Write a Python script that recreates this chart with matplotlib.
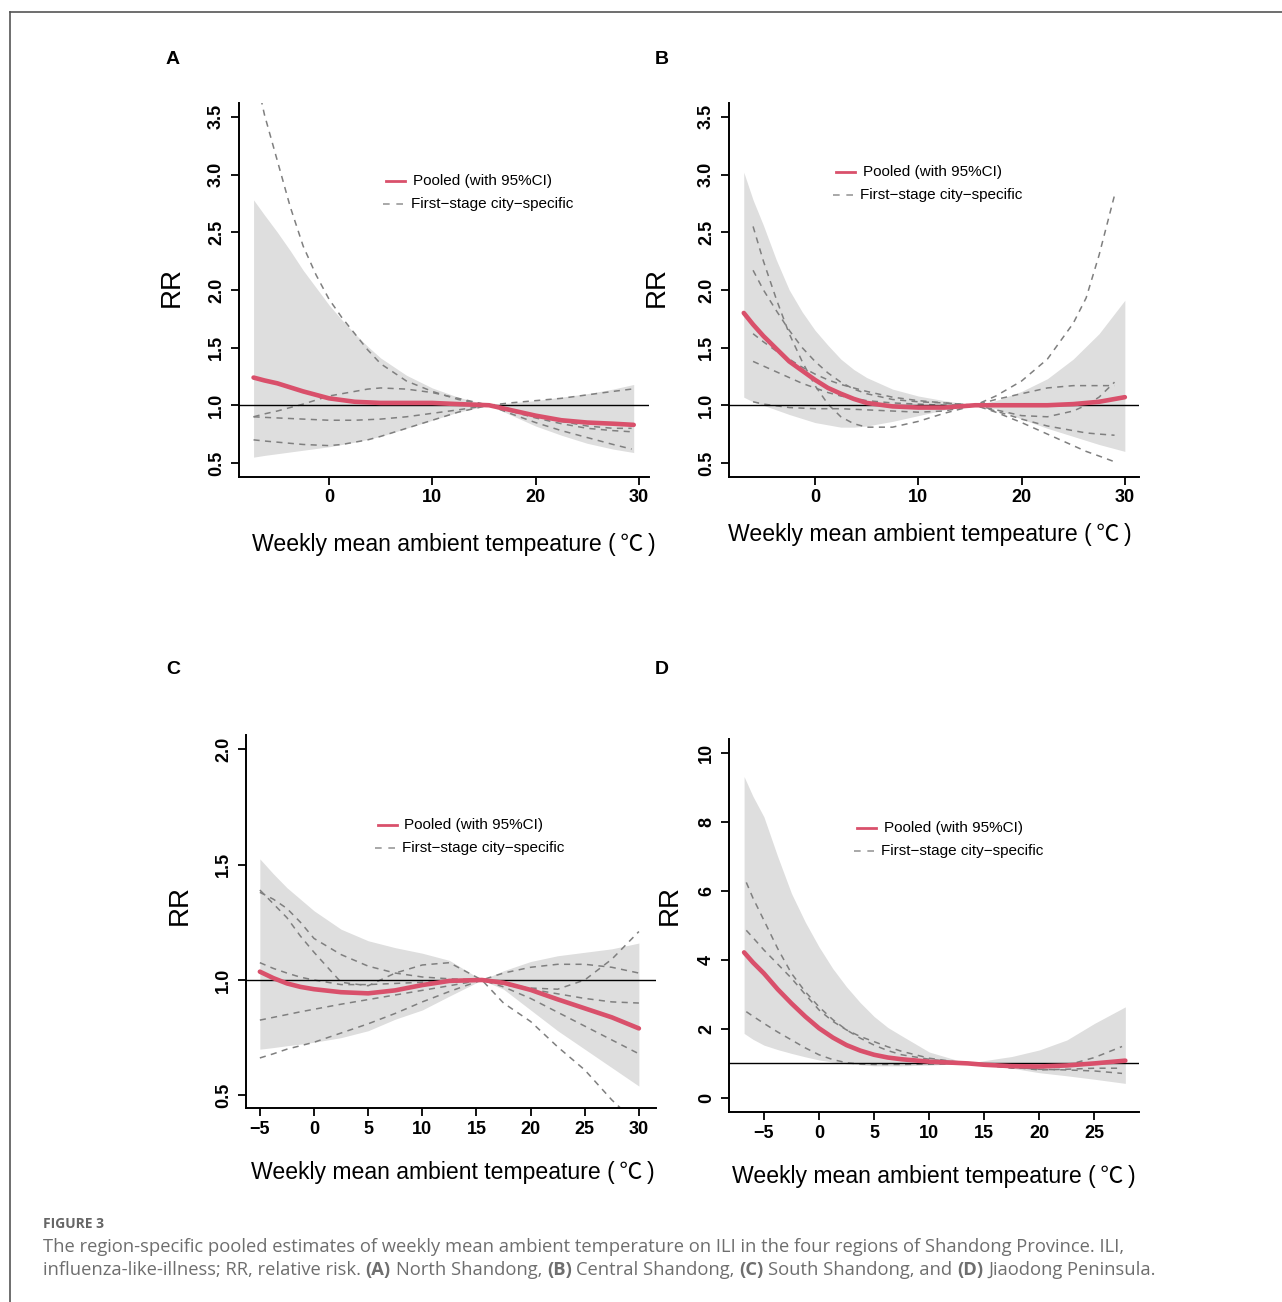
import numpy as np
import matplotlib
matplotlib.use("Agg")
import matplotlib.pyplot as plt
from matplotlib.lines import Line2D

W, H = 1282, 1302
RED = "#d9506b"
BAND = "#dedede"
DASH = "#7f7f7f"
RFONT = ["Liberation Sans", "DejaVu Sans"]

# ---- panel A: North Shandong
a_x = [-7.3, -6.25, -5, -3.75, -2.5, -1.25, 0, 1.25, 2.5, 3.75, 5, 7.5, 10, 12.5, 15.5,
       17.5, 20, 22.5, 25, 27.5, 29.5]
a_rr = [1.24, 1.215, 1.19, 1.155, 1.12, 1.09, 1.06, 1.045, 1.03, 1.025, 1.02, 1.02, 1.02, 1.01, 1.0,
        0.96, 0.91, 0.87, 0.85, 0.84, 0.83]
a_hi = [2.78, 2.65, 2.50, 2.34, 2.17, 2.02, 1.87, 1.74, 1.62, 1.51, 1.41, 1.26, 1.15, 1.07, 1.0,
        1.02, 1.04, 1.07, 1.10, 1.14, 1.18]
a_lo = [0.55, 0.565, 0.58, 0.595, 0.61, 0.625, 0.64, 0.66, 0.68, 0.705, 0.73, 0.80, 0.87, 0.94, 1.0,
        0.92, 0.82, 0.74, 0.67, 0.62, 0.59]
a_cx = [-7.3, -6.25, -5, -3.75, -2.5, -1.25, 0, 1.25, 2.5, 3.75, 5, 7.5, 10, 12.5, 15.5,
        17.5, 20, 22.5, 25, 27.5, 29.3]
a_city = [
    [3.95, 3.52, 3.12, 2.72, 2.38, 2.13, 1.92, 1.76, 1.62, 1.48, 1.36, 1.21, 1.12, 1.05, 1.0,
     0.93, 0.85, 0.78, 0.72, 0.66, 0.62],
    [0.90, 0.925, 0.95, 0.98, 1.01, 1.045, 1.08, 1.10, 1.12, 1.14, 1.15, 1.14, 1.11, 1.06, 1.0,
     0.95, 0.89, 0.84, 0.80, 0.78, 0.77],
    [0.90, 0.895, 0.89, 0.885, 0.88, 0.875, 0.87, 0.87, 0.87, 0.875, 0.88, 0.90, 0.93, 0.96, 1.0,
     0.97, 0.91, 0.86, 0.82, 0.80, 0.80],
    [0.70, 0.69, 0.68, 0.67, 0.66, 0.655, 0.65, 0.66, 0.68, 0.70, 0.73, 0.80, 0.87, 0.94, 1.0,
     1.02, 1.04, 1.06, 1.09, 1.12, 1.14],
]

# ---- panel B: Central Shandong
b_x = [-6.9, -6, -5, -3.75, -2.5, -1.25, 0, 1.25, 2.5, 3.75, 5, 7.5, 10, 12.5, 15.5,
       17.5, 20, 22.5, 25, 27.5, 30]
b_rr = [1.80, 1.70, 1.60, 1.49, 1.38, 1.30, 1.22, 1.15, 1.10, 1.055, 1.02, 0.99, 0.98, 0.98, 1.0,
        1.0, 1.0, 1.0, 1.01, 1.03, 1.07]
b_hi = [3.02, 2.78, 2.56, 2.26, 2.00, 1.81, 1.65, 1.52, 1.40, 1.31, 1.24, 1.14, 1.08, 1.04, 1.0,
        1.04, 1.12, 1.23, 1.40, 1.62, 1.91]
b_lo = [1.07, 1.03, 1.0, 0.96, 0.92, 0.885, 0.85, 0.83, 0.81, 0.81, 0.82, 0.86, 0.91, 0.96, 1.0,
        0.97, 0.88, 0.80, 0.73, 0.66, 0.60]
b_cx = [-6, -5, -3.75, -2.5, -1.25, 0, 1.25, 2.5, 3.75, 5, 7.5, 10, 12.5, 15.5,
        17.5, 20, 22.5, 25, 26.25, 27.5, 29]
b_city = [
    [2.55, 2.25, 1.92, 1.62, 1.38, 1.17, 1.01, 0.90, 0.84, 0.81, 0.81, 0.86, 0.93, 1.0,
     1.05, 1.10, 1.15, 1.17, 1.17, 1.17, 1.17],
    [2.17, 2.00, 1.82, 1.65, 1.50, 1.38, 1.28, 1.20, 1.14, 1.10, 1.05, 1.03, 1.02, 1.0,
     0.94, 0.85, 0.75, 0.65, 0.60, 0.56, 0.51],
    [1.62, 1.55, 1.47, 1.40, 1.33, 1.27, 1.22, 1.18, 1.15, 1.12, 1.07, 1.04, 1.02, 1.0,
     0.95, 0.88, 0.82, 0.78, 0.76, 0.75, 0.74],
    [1.38, 1.34, 1.29, 1.24, 1.19, 1.15, 1.11, 1.08, 1.06, 1.04, 1.02, 1.01, 1.0, 1.0,
     0.96, 0.91, 0.90, 0.95, 1.0, 1.07, 1.20],
    [1.03, 1.01, 0.995, 0.98, 0.975, 0.97, 0.97, 0.97, 0.965, 0.96, 0.95, 0.94, 0.95, 1.0,
     1.08, 1.21, 1.40, 1.71, 1.93, 2.30, 2.82],
]

# ---- panel C: South Shandong
c_x = [-5, -3.75, -2.5, -1.25, 0, 2.5, 5, 7.5, 10, 12.5, 15.5, 17.5, 20, 22.5, 25, 27.5, 30]
c_rr = [1.036, 1.008, 0.985, 0.97, 0.96, 0.947, 0.942, 0.955, 0.978, 0.996, 1.0, 0.988, 0.957,
        0.916, 0.877, 0.838, 0.79]
c_hi = [1.525, 1.46, 1.40, 1.35, 1.30, 1.22, 1.17, 1.14, 1.116, 1.085, 1.0, 1.04, 1.08, 1.105,
        1.12, 1.135, 1.16]
c_lo = [0.70, 0.707, 0.715, 0.722, 0.73, 0.75, 0.78, 0.83, 0.87, 0.93, 1.0, 0.96, 0.87, 0.78,
        0.70, 0.62, 0.54]
c_cx = c_x
c_city = [
    [1.39, 1.33, 1.27, 1.19, 1.12, 0.99, 0.975, 1.03, 1.065, 1.075, 1.0, 0.90, 0.82, 0.71, 0.61,
     0.48, 0.37],
    [1.38, 1.35, 1.31, 1.25, 1.18, 1.11, 1.06, 1.03, 1.013, 1.005, 1.0, 0.98, 0.96, 0.94, 0.92,
     0.905, 0.90],
    [1.075, 1.05, 1.03, 1.012, 1.0, 0.98, 0.98, 0.985, 0.99, 0.995, 1.0, 1.03, 1.055, 1.068,
     1.068, 1.055, 1.03],
    [0.826, 0.838, 0.85, 0.862, 0.873, 0.895, 0.915, 0.935, 0.955, 0.975, 1.0, 0.985, 0.965,
     0.96, 1.0, 1.09, 1.21],
    [0.662, 0.68, 0.70, 0.715, 0.73, 0.77, 0.81, 0.855, 0.905, 0.95, 1.0, 0.97, 0.92, 0.86,
     0.80, 0.74, 0.68],
]

# ---- panel D: Jiaodong Peninsula
d_x = [-6.8, -6, -5, -3.75, -2.5, -1.25, 0, 1.25, 2.5, 3.75, 5, 6.25, 7.5, 10, 13.5,
       15, 17.5, 20, 22.5, 25, 27.8]
d_rr = [4.22, 3.93, 3.61, 3.15, 2.74, 2.36, 2.02, 1.75, 1.53, 1.37, 1.25, 1.17, 1.12, 1.05, 1.0,
        0.96, 0.92, 0.91, 0.94, 1.0, 1.08]
d_hi = [9.32, 8.75, 8.15, 7.0, 5.93, 5.1, 4.38, 3.75, 3.22, 2.76, 2.36, 2.04, 1.80, 1.33, 1.0,
        1.08, 1.20, 1.39, 1.68, 2.16, 2.64]
d_lo = [1.87, 1.70, 1.53, 1.40, 1.29, 1.19, 1.10, 1.04, 0.99, 0.96, 0.93, 0.93, 0.93, 0.95, 1.0,
        0.95, 0.86, 0.73, 0.64, 0.54, 0.42]
d_cx = [-6.6, -6, -5, -3.75, -2.5, -1.25, 0, 1.25, 2.5, 3.75, 5, 6.25, 7.5, 10, 13.5,
        15, 17.5, 20, 22.5, 25, 27.5]
d_city = [
    [6.25, 5.80, 5.15, 4.33, 3.61, 3.08, 2.64, 2.27, 1.97, 1.73, 1.53, 1.37, 1.25, 1.12, 1.0,
     0.95, 0.89, 0.83, 0.81, 0.78, 0.71],
    [4.86, 4.65, 4.29, 3.88, 3.47, 3.00, 2.55, 2.22, 1.97, 1.78, 1.63, 1.48, 1.35, 1.15, 1.0,
     0.95, 0.86, 0.86, 0.95, 1.17, 1.49],
    [2.50, 2.37, 2.16, 1.91, 1.68, 1.45, 1.25, 1.11, 1.02, 0.98, 0.97, 0.97, 0.97, 0.98, 1.0,
     0.97, 0.89, 0.81, 0.83, 0.86, 0.86],
]

fig = plt.figure(figsize=(W / 100, H / 100), dpi=100)


def fx(px):
    return px / W


def fy(py):
    return 1 - py / H


def panel(box, x, rr, lo, hi, cx, city, xlim, ylim, xticks, yticks, yfmt):
    left, top, right, bottom = box
    ax = fig.add_axes([fx(left), fy(bottom), (right - left) / W, (bottom - top) / H])
    ax.fill_between(x, lo, hi, color=BAND, lw=0, zorder=1)
    for c in city:
        ax.plot(cx, c, color=DASH, lw=1.1, dashes=(4, 3.5), zorder=2)
    ax.axhline(1, color="black", lw=1.0, zorder=3)
    ax.plot(x, rr, color=RED, lw=3.3, zorder=4, solid_capstyle="round")
    ax.set_xlim(*xlim)
    ax.set_ylim(*ylim)
    ax.set_xticks(xticks)
    ax.set_xticklabels([str(t).replace("-", "\u2212") for t in xticks], fontweight="bold",
                       fontsize=13, family=RFONT)
    ax.set_yticks(yticks)
    ax.set_yticklabels([yfmt.format(t) for t in yticks], fontweight="bold", fontsize=13,
                       family=RFONT, rotation=90, va="center")
    ax.spines["top"].set_visible(False)
    ax.spines["right"].set_visible(False)
    for s in ("left", "bottom"):
        ax.spines[s].set_linewidth(1.4)
    ax.tick_params(axis="both", length=6, width=1.3, color="black")
    ax.tick_params(axis="y", pad=4)
    ax.tick_params(axis="x", pad=3)
    ax.set_facecolor("none")
    return ax


def legend(rx, ry, dx, dy, tx1, tx2):
    fig.add_artist(Line2D([fx(rx), fx(rx + 19)], [fy(ry)] * 2, color=RED, lw=2.0))
    fig.text(fx(tx1), fy(ry), "Pooled (with 95%CI)", fontsize=11, family=RFONT, va="center")
    fig.add_artist(Line2D([fx(dx), fx(dx + 20)], [fy(dy)] * 2, color="#9a9a9a", lw=1.2,
                          dashes=(4, 4)))
    fig.text(fx(tx2), fy(dy), "First\u2212stage city\u2212specific", fontsize=11, family=RFONT,
             va="center")


ab_yt = [0.5, 1.0, 1.5, 2.0, 2.5, 3.0, 3.5]
panel((239, 103, 649, 477), a_x, a_rr, a_lo, a_hi, a_cx, a_city,
      (-8.71, 30.98), (0.378, 3.62), [0, 10, 20, 30], ab_yt, "{:.1f}")
panel((729, 103, 1139, 477), b_x, b_rr, b_lo, b_hi, b_cx, b_city,
      (-8.33, 31.37), (0.378, 3.62), [0, 10, 20, 30], ab_yt, "{:.1f}")
panel((246, 735, 656, 1108), c_x, c_rr, c_lo, c_hi, c_cx, c_city,
      (-6.28, 31.58), (0.445, 2.062), [-5, 0, 5, 10, 15, 20, 25, 30], [0.5, 1.0, 1.5, 2.0], "{:.1f}")
panel((729, 739, 1139, 1112), d_x, d_rr, d_lo, d_hi, d_cx, d_city,
      (-8.17, 29.04), (-0.41, 10.41), [-5, 0, 5, 10, 15, 20, 25], [0, 2, 4, 6, 8, 10], "{:d}")

legend(386, 181, 383, 204, 413, 411)
legend(836, 172, 833, 195, 863, 860)
legend(378, 825, 375, 848, 404, 402)
legend(857, 828, 854, 851, 884, 881)

for lab, x, y in [("A", 173, 60), ("B", 662, 60), ("C", 173, 670), ("D", 662, 670)]:
    fig.text(fx(x), fy(y), lab, fontsize=14, fontweight="bold", family=RFONT, ha="center", va="center")

for x, y in [(172, 287), (657, 287), (180, 905), (670, 905)]:
    fig.text(fx(x), fy(y), "RR", fontsize=20, family=RFONT, rotation=90, ha="center", va="center")

xlab = "Weekly mean ambient tempeature (\u2009\u2103\u2009)"
for x, y in [(454, 545), (930, 535), (453, 1172), (934, 1177)]:
    fig.text(fx(x), fy(y), xlab, fontsize=16.6, family=["Liberation Sans", "Noto Sans CJK SC"],
             ha="center", va="center")

# outer frame
fig.add_artist(Line2D([fx(10), fx(10)], [fy(12), 0], color="#555555", lw=1.2))
fig.add_artist(Line2D([fx(10), 1], [fy(12), fy(12)], color="#555555", lw=1.2))

# caption
CAP = "Open Sans"
CCOL = "#6e6e6e"
fig.text(fx(43), fy(1224), "FIGURE 3", fontsize=10, fontweight="bold", family=CAP,
         color="#666666", va="center")
renderer = fig.canvas.get_renderer()


def width(s, weight, size):
    t = fig.text(0, 0, s, fontsize=size, fontweight=weight, family=CAP)
    w = t.get_window_extent(renderer=renderer).width
    t.remove()
    return w


def runs(x, y, parts, size):
    sp = width("a a", "normal", size) - width("aa", "normal", size)
    for s, wgt in parts:
        x += (len(s) - len(s.lstrip(" "))) * sp
        core = s.strip(" ")
        fig.text(fx(x), fy(y), core, fontsize=size, fontweight=wgt, family=CAP, color=CCOL,
                 va="center")
        x += width(core, wgt, size)
        x += (len(s) - len(s.rstrip(" "))) * sp


line1 = ("The region-specific pooled estimates of weekly mean ambient temperature on ILI "
         "in the four regions of Shandong Province. ILI,")
CS = 12 * 1079 / width(line1, "normal", 12)
runs(43, 1247, [(line1, "normal")], CS)
runs(43, 1270, [("influenza-like-illness; RR, relative risk. ", "normal"), ("(A)", "bold"),
                (" North Shandong, ", "normal"), ("(B)", "bold"), (" Central Shandong, ", "normal"),
                ("(C)", "bold"), (" South Shandong, and ", "normal"), ("(D)", "bold"),
                (" Jiaodong Peninsula.", "normal")], CS)

fig.savefig("out.png", dpi=100)
